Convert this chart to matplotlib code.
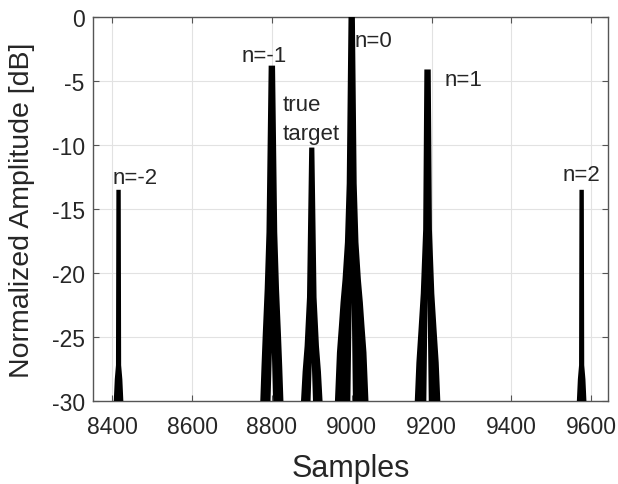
import numpy as np
import matplotlib.pyplot as plt

plt.rcParams['font.family'] = ['Liberation Sans', 'DejaVu Sans']
plt.rcParams['axes.unicode_minus'] = False

# peak centres (samples) and peak levels (dB)
centers = [8416, 8800, 8900, 9000, 9190, 9576]
heights = [-13.5, -3.8, -10.2, 0.0, -4.1, -13.5]

# outline of each peak: level (dB) from the floor up, and half width (samples)
levels = [
    [-30, -28.3, -27.2, -13.5],
    [-30, -27.3, -24.9, -21.25, -16.8, -3.8],
    [-30, -27.7, -25.7, -21.9, -10.2],
    [-30, -26.2, -24.1, -22.3, -20.5, -17.6, -13.0, 0.0],
    [-30, -27.0, -24.6, -21.6, -16.6, -4.1],
    [-30, -28.3, -27.2, -13.5],
]
halfw = [
    [12, 9.5, 6.5, 5.5],
    [29, 26, 23, 18, 13.5, 8],
    [27, 23, 18, 12, 6.5],
    [42, 37, 32, 28, 23, 17, 12.5, 8],
    [32, 28, 23, 17, 11, 8],
    [12, 9.5, 6.5, 5.5],
]
# white gap under the main lobe: top level (dB), half width (samples)
notch_top = [None, -26.2, -27.0, -22.3, -22.0, None]
notch_hw = [0, 3.3, 3, 3.3, 3, 0]

labels = ['n=-2', 'n=-1', 'true\ntarget', 'n=0', 'n=1', 'n=2']
label_x = [8400, 8725, 8827, 9007, 9232, 9527]
label_y = [-12.5, -3.0, -8.0, -1.8, -4.9, -12.3]

xticks = [8400, 8600, 8800, 9000, 9200, 9400, 9600]
yticks = [0, -5, -10, -15, -20, -25, -30]

fig = plt.figure(figsize=(6.18, 4.85), dpi=100)
ax = fig.add_axes([0.1505, 0.1711, 0.8333, 0.7918])

for c, lv, hw, nt, nh in zip(centers, levels, halfw, notch_top, notch_hw):
    lv = np.array(lv, dtype=float)
    hw = np.array(hw, dtype=float)
    xs = list(c - hw) + list(c + hw[::-1])
    ys = list(lv) + list(lv[::-1])
    if nt is not None:
        xs += [c + nh, c, c - nh]
        ys += [-30, nt, -30]
    ax.fill(xs, ys, color='black', lw=0, zorder=3)

for t, x, y in zip(labels, label_x, label_y):
    ax.text(x, y, t, fontsize=16, color='#262626', ha='left', va='center',
            linespacing=1.5, zorder=4)

ax.set_xlim(8352, 9642)
ax.set_ylim(-30, 0)
ax.set_xticks(xticks)
ax.set_yticks(yticks)
ax.grid(True, color='#e2e2e2', lw=0.8, zorder=0)
ax.set_axisbelow(True)

for s in ax.spines.values():
    s.set_color('#555555')
    s.set_linewidth(1.0)
ax.tick_params(direction='in', length=4, width=0.8, color='#555555',
               top=True, right=True, labelsize=16.5, labelcolor='#262626')
ax.tick_params(axis='y', pad=6)
ax.tick_params(axis='x', pad=10)

ax.set_xlabel('Samples', fontsize=22, color='#262626', labelpad=11)
ax.set_ylabel('Normalized Amplitude [dB]', fontsize=20.5, color='#262626', labelpad=12)

fig.savefig('out.png', dpi=100)
